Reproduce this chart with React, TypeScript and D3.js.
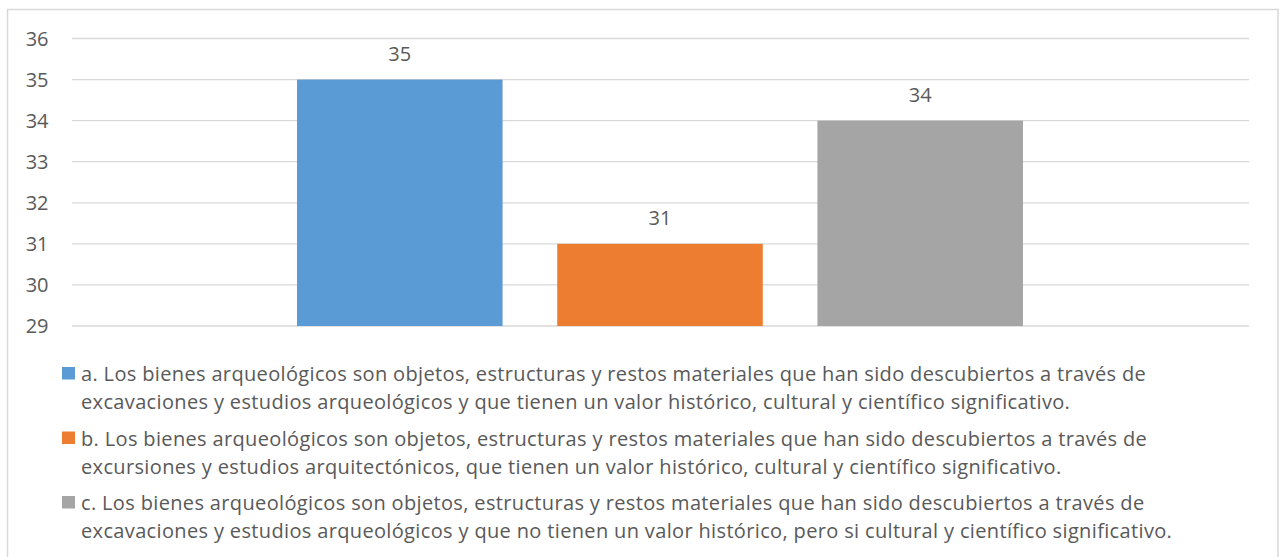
import React from 'react';
import * as d3 from 'd3';

const seriesKeys = ['a', 'b', 'c'];
const seriesValues = [35, 31, 34];
const seriesColors = ['#5B9BD5', '#ED7D31', '#A5A5A5'];
const yTicks = [29, 30, 31, 32, 33, 34, 35, 36];
const legendLines = [
  [
    'a. Los bienes arqueológicos son objetos, estructuras y restos materiales que han sido descubiertos a través de',
    'excavaciones y estudios arqueológicos y que tienen un valor histórico, cultural y científico significativo.',
  ],
  [
    'b. Los bienes arqueológicos son objetos, estructuras y restos materiales que han sido descubiertos a través de',
    'excursiones y estudios arquitectónicos, que tienen un valor histórico, cultural y científico significativo.',
  ],
  [
    'c. Los bienes arqueológicos son objetos, estructuras y restos materiales que han sido descubiertos a través de',
    'excavaciones y estudios arqueológicos y que no tienen un valor histórico, pero si cultural y científico significativo.',
  ],
];

const W = 1285;
const H = 557;
const plot = { left: 72, right: 1249, top: 38.5, bottom: 326 };
const textColor = '#595959';
const font = '"Open Sans", Lato, sans-serif';

export default function App() {
  const y = d3.scaleLinear().domain([29, 36]).range([plot.bottom, plot.top]);
  const x = d3
    .scaleBand<string>()
    .domain(seriesKeys)
    .range([297, 1023])
    .paddingInner(0.21);

  return (
    <svg
      width={W}
      height={H}
      style={{ position: 'absolute', left: 0, top: 0, background: '#fff' }}
      fontFamily={font}
    >
      <rect x={7.5} y={9.5} width={1270.5} height={560} fill="#fff" stroke="#D9D9D9" strokeWidth={1.5} />

      {yTicks.map((t) => (
        <g key={t}>
          <line x1={plot.left} x2={plot.right} y1={y(t)} y2={y(t)} stroke="#D9D9D9" strokeWidth={1.3} />
          <text x={48.5} y={y(t)} dy="0.36em" textAnchor="end" fontSize={20} fill={textColor}>
            {t}
          </text>
        </g>
      ))}

      {seriesKeys.map((k, i) => (
        <g key={k}>
          <rect
            x={x(k)}
            y={y(seriesValues[i])}
            width={x.bandwidth()}
            height={plot.bottom - y(seriesValues[i])}
            fill={seriesColors[i]}
          />
          <text
            x={(x(k) ?? 0) + x.bandwidth() / 2}
            y={y(seriesValues[i]) - 18.5}
            textAnchor="middle"
            fontSize={20}
            fill={textColor}
          >
            {seriesValues[i]}
          </text>
        </g>
      ))}

      {legendLines.map((lines, i) => {
        const top = 367 + i * 64.5;
        return (
          <g key={i}>
            <rect x={62} y={top} width={13} height={12.5} fill={seriesColors[i]} />
            {lines.map((ln, j) => (
              <text
                key={j}
                x={81}
                y={top + 14 + j * 28}
                fontSize={20}
                letterSpacing={0.35}
                fill={textColor}
              >
                {ln}
              </text>
            ))}
          </g>
        );
      })}
    </svg>
  );
}
